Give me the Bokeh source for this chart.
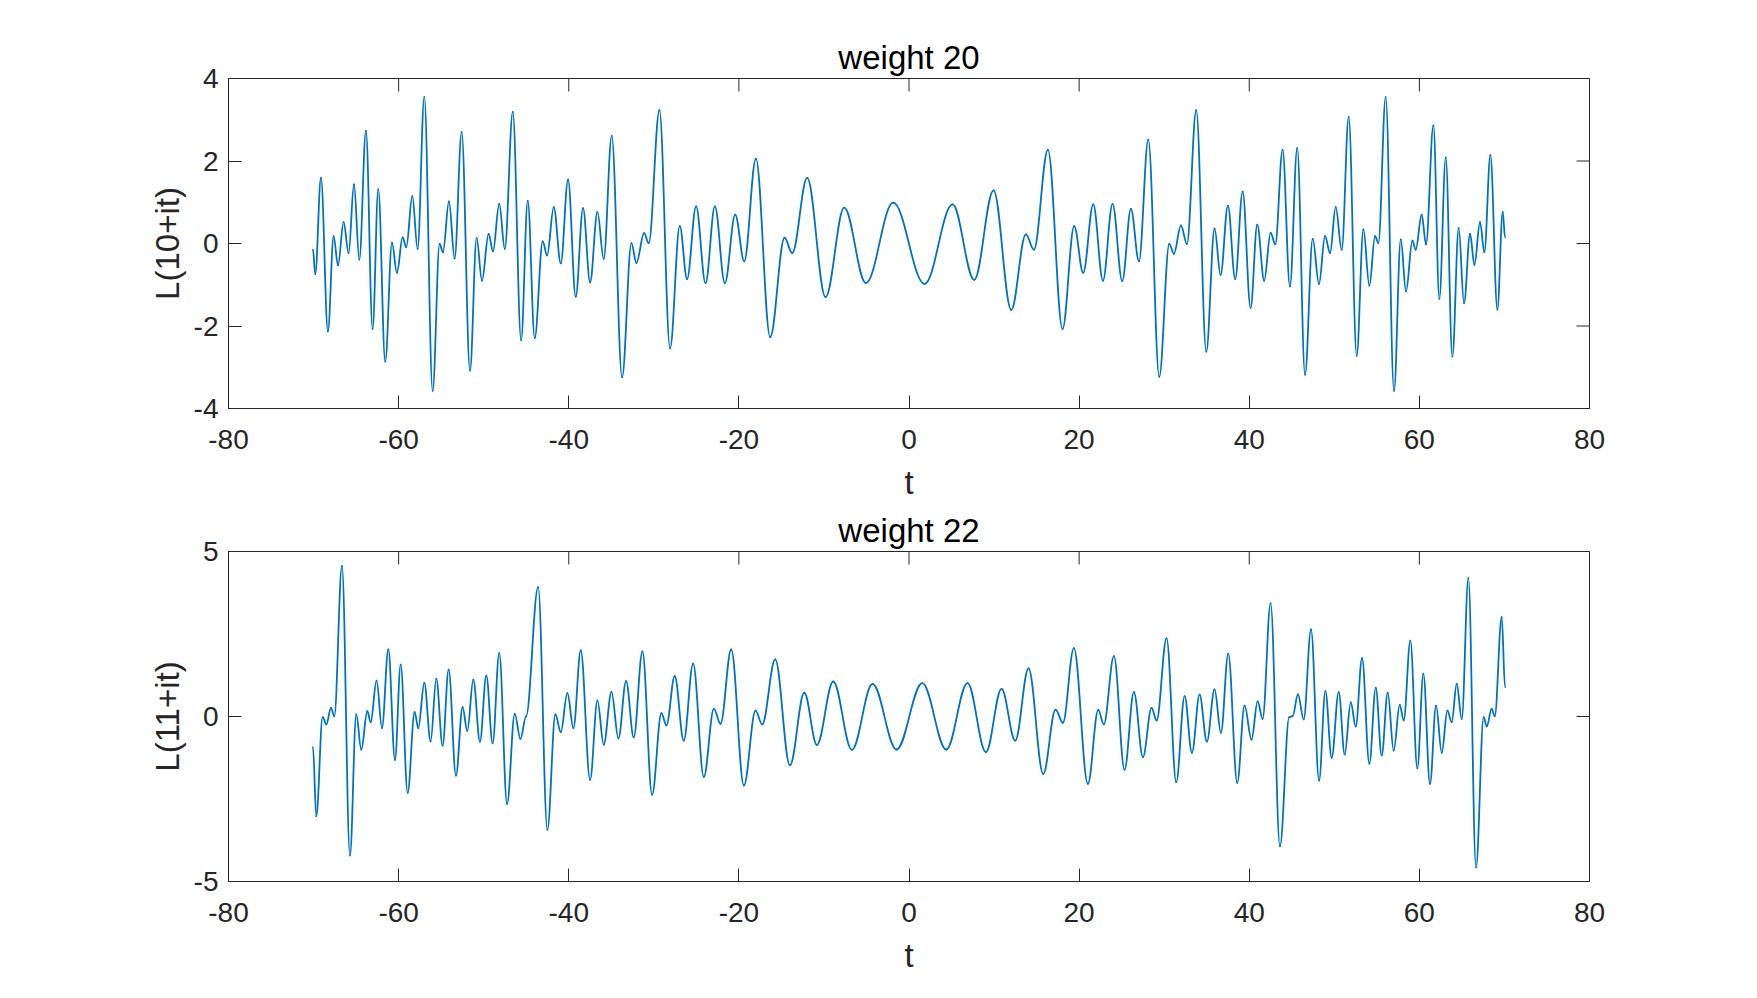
import math
import numpy as np
from bokeh.plotting import figure
from bokeh.models import Range1d, FixedTicker, PrintfTickFormatter
from bokeh.layouts import column
from bokeh.embed import file_html
from bokeh.resources import INLINE

# ---------------- data (local extrema) ----------------
t20 = [-70.07, -69.8, -69.13, -68.31, -67.64, -67.13, -66.47, -65.88, -65.25, -64.62, -63.84,
       -63.06, -62.39, -61.57, -60.78, -60.2, -59.53, -59.1, -58.39, -57.77, -56.98, -56.0,
       -55.18, -54.79, -54.08, -53.42, -52.59, -51.61, -50.83, -50.2, -49.42, -48.91, -48.17,
       -47.52, -46.58, -45.6, -44.82, -44.0, -43.06, -42.55, -41.76, -40.94, -40.08, -39.18,
       -38.32, -37.49, -36.63, -35.89, -34.95, -33.73, -32.63, -32.05, -31.14, -30.6, -29.34,
       -28.09, -26.95, -26.09, -25.03,
       -23.92, -22.82, -21.65, -20.43, -19.37, -18.0, -16.32, -14.63, -13.73, -11.97, -9.81,
       -7.62, -5.07, -1.86,
       1.83, 5.12, 7.67, 9.94, 12.02, 13.74, 14.68, 16.33, 18.05, 19.42, 20.48, 21.66,
       22.8, 23.93, 25.07, 26.09, 27.03, 28.13, 29.42, 30.6, 31.14, 31.97, 32.67, 33.77, 34.95,
       35.92, 36.63, 37.49, 38.35, 39.22, 40.16, 40.94, 41.76, 42.51, 43.06, 43.92, 44.78, 45.64,
       46.56, 47.46, 48.2, 48.91, 49.5, 50.16, 50.87, 51.69, 52.63, 53.42, 54.12, 54.79, 55.18,
       56.04, 57.02, 57.81, 58.43, 59.18, 59.57, 60.27, 60.78, 61.65, 62.35, 63.1, 63.88, 64.62,
       65.25, 65.96, 66.47, 67.13, 67.64, 68.35, 69.17, 69.8, 70.07]
v20 = [-0.15, -0.74, 1.59, -2.13, 0.18, -0.53, 0.52, -0.23, 1.43, -0.39, 2.73,
       -2.07, 1.31, -2.86, 0.02, -0.71, 0.15, -0.09, 1.15, -0.13, 3.55, -3.57,
       -0.01, -0.21, 1.02, -0.36, 2.70, -3.08, 0.13, -0.90, 0.23, -0.19, 0.96,
       -0.13, 3.19, -2.34, 1.03, -2.29, 0.05, -0.29, 0.88, -0.48, 1.55, -1.29,
       0.86, -0.94, 0.76, -0.37, 2.61, -3.24, 0.01, -0.47, 0.25, 0.01, 3.23,
       -2.54, 0.42, -0.86, 0.90,
       -0.96, 0.90, -0.96, 0.70, -0.43, 2.06, -2.27, 0.14, -0.23, 1.59, -1.30,
       0.87, -0.96, 0.99,
       -0.98, 0.95, -0.88, 1.29, -1.61, 0.22, -0.15, 2.27, -2.07, 0.42, -0.71, 0.95,
       -0.90, 0.96, -0.91, 0.84, -0.43, 2.52, -3.23, -0.01, -0.25, 0.44, -0.01, 3.23, -2.62,
       0.36, -0.76, 0.92, -0.86, 1.26, -1.56, 0.46, -0.90, 0.26, -0.02, 2.27, -1.04, 2.31,
       -3.18, 0.11, -0.98, 0.18, -0.23, 0.88, -0.15, 3.07, -2.72, 0.34, -1.02, 0.18, 0.01,
       3.55, -3.57, 0.10, -1.16, 0.07, -0.15, 0.70, -0.02, 2.86, -1.34, 2.08, -2.74, 0.37,
       -1.45, 0.23, -0.52, 0.52, -0.21, 2.14, -1.60, 0.76, 0.15]

t22 = [-70.07, -69.68, -68.93, -68.5, -67.95, -67.56, -66.66, -65.72, -64.98, -64.39, -63.68,
       -63.29, -62.59, -61.96, -61.21, -60.43, -59.76, -58.94, -58.12, -57.69, -56.98, -56.24,
       -55.57, -54.83, -54.12, -53.26, -52.48, -51.93, -51.22, -50.44, -49.69, -48.95, -48.17,
       -47.25, -46.35, -45.68, -45.02, -43.6, -42.51, -41.57, -40.94, -40.16, -39.45, -38.59,
       -37.49, -36.63, -35.89, -34.98, -34.16, -33.26, -32.36, -31.34, -30.2, -29.11, -28.52,
       -27.54, -26.48, -25.38,
       -24.12, -22.94, -22.16, -20.9, -19.41, -18.04, -17.26, -15.73, -14.0, -12.31, -10.83,
       -8.91, -6.72, -4.29, -1.47,
       1.56, 4.38, 6.88, 9.04, 10.88, 12.49, 14.05, 15.78, 17.23, 18.09, 19.38, 21.03, 22.25,
       22.9, 24.09, 25.34, 26.44, 27.5, 28.52, 29.11, 30.28, 31.42, 32.4, 33.26, 34.16, 35.02,
       35.92, 36.67, 37.53, 38.59, 39.45, 40.27, 40.98, 41.57, 42.51, 43.61, 44.7, 45.1, 45.72,
       46.4, 47.26, 48.21, 48.95, 49.69, 50.52, 51.22, 51.93, 52.52, 53.26, 54.12, 54.87, 55.57,
       56.28, 56.98, 57.69, 58.16, 58.94, 59.76, 60.47, 61.25, 61.96, 62.63, 63.29, 63.8, 64.39,
       64.98, 65.76, 66.66, 67.56, 67.92, 68.5, 68.86, 69.68, 70.07]
v22 = [-0.93, -3.02, -0.02, -0.24, 0.26, 0.01, 4.56, -4.21, 0.06, -1.0, 0.16,
       -0.17, 1.09, -0.35, 2.03, -1.31, 1.57, -2.31, 0.13, -0.35, 1.02, -0.75,
       1.14, -0.88, 1.42, -1.79, 0.28, -0.44, 1.12, -0.76, 1.24, -0.81, 1.92,
       -2.65, 0.08, -0.68, 0.0, 3.92, -3.43, 0.06, -0.47, 0.71, -0.35, 2.0,
       -1.92, 0.48, -0.85, 0.74, -0.66, 1.07, -0.63, 1.97, -2.37, 0.1, -0.27,
       1.22, -0.73, 1.60,
       -1.83, 0.23, -0.22, 2.03, -2.09, 0.18, -0.24, 1.73, -1.48, 0.72, -0.86,
       1.06, -1.01, 0.99, -1.0,
       1.01, -1.0, 1.01, -1.08, 0.84, -0.73, 1.46, -1.74, 0.21, -0.19, 2.07, -2.04, 0.2,
       -0.24, 1.83, -1.61, 0.74, -1.23, 0.26, -0.12, 2.37, -1.99, 0.62, -1.1, 0.66, -0.76,
       0.82, -0.49, 1.90, -2.01, 0.33, -0.70, 0.46, -0.07, 3.43, -3.93, -0.02, 0.01, 0.67,
       -0.09, 2.64, -1.94, 0.77, -1.25, 0.74, -1.15, 0.43, -0.30, 1.77, -1.43, 0.87, -1.18,
       0.72, -1.03, 0.35, -0.12, 2.30, -1.57, 1.29, -2.04, 0.33, -1.10, 0.18, -0.17, 0.99,
       -0.07, 4.19, -4.57, -0.02, -0.30, 0.23, 0.01, 3.01, 0.89]

x_ticks = [-80, -60, -40, -20, 0, 20, 40, 60, 80]
x_lim = (-80, 80)
y_lim_20 = (-4, 4)
y_lim_22 = (-5, 5)
y_ticks_20 = [-4, -2, 0, 2, 4]
y_ticks_22 = [-5, 0, 5]

assert len(t20) == len(v20) and len(t22) == len(v22)

FONT = "Liberation Sans"
TXT = "#262626"
LINE = "#0072BD"
TICK_LEN = 13


def style_axis(ax, ticks):
    ax.ticker = FixedTicker(ticks=ticks)
    ax.formatter = PrintfTickFormatter(format="%d")
    ax.major_tick_in = TICK_LEN
    ax.major_tick_out = 0
    ax.minor_tick_line_color = None
    ax.axis_line_color = TXT
    ax.major_tick_line_color = TXT
    ax.major_label_text_font = FONT
    ax.major_label_text_color = TXT
    ax.major_label_text_font_size = "28px"
    ax.axis_label_text_font = FONT
    ax.axis_label_text_font_style = "normal"
    ax.axis_label_text_color = TXT
    ax.axis_label_text_font_size = "33px"


def panel(t, v, ylim, yticks, title, ylabel, height, top, bottom):
    p = figure(width=1757, height=height, output_backend="svg", toolbar_location=None,
               x_range=Range1d(*x_lim), y_range=Range1d(*ylim),
               min_border_left=228, min_border_right=168,
               min_border_top=top, min_border_bottom=bottom)
    p.background_fill_color = "white"
    p.border_fill_color = "white"
    p.outline_line_color = TXT
    p.xgrid.visible = False
    p.ygrid.visible = False

    p.title.text = title
    p.title.align = "center"
    p.title.text_font = FONT
    p.title.text_font_size = "33px"
    p.title.text_font_style = "normal"
    p.title.text_color = "#000000"
    p.title.standoff = 5

    style_axis(p.xaxis[0], x_ticks)
    p.xaxis[0].axis_label = "t"
    p.xaxis[0].major_label_standoff = 21
    p.xaxis[0].axis_label_standoff = 12
    style_axis(p.yaxis[0], yticks)
    p.yaxis[0].axis_label = ylabel
    p.yaxis[0].major_label_standoff = 10
    p.yaxis[0].axis_label_standoff = 5

    # mirrored tick marks on the top and right edges of the box
    p.ray(x=x_ticks, y=[ylim[1]] * len(x_ticks), length=TICK_LEN, length_units="screen",
          angle=-math.pi / 2, line_color=TXT, line_width=1)
    p.ray(x=[x_lim[1]] * len(yticks), y=yticks, length=TICK_LEN, length_units="screen",
          angle=math.pi, line_color=TXT, line_width=1)

    # smooth curve through the read extrema (horizontal tangent at each extremum)
    ta = np.asarray(t, dtype=float)
    va = np.asarray(v, dtype=float)
    k = 0.364
    dt = ta[1:] - ta[:-1]
    p.bezier(x0=ta[:-1], y0=va[:-1], x1=ta[1:], y1=va[1:],
             cx0=ta[:-1] + k * dt, cy0=va[:-1], cx1=ta[1:] - k * dt, cy1=va[1:],
             line_color=LINE, line_width=1.8, line_cap="round")
    return p


p1 = panel(t20, v20, y_lim_20, y_ticks_20, "weight 20", "L(10+it)", 505, 78, 97)
p2 = panel(t22, v22, y_lim_22, y_ticks_22, "weight 22", "L(11+it)", 493, 46, 117)

layout = column(p1, p2)
open("out.html", "w").write(file_html(layout, INLINE))
